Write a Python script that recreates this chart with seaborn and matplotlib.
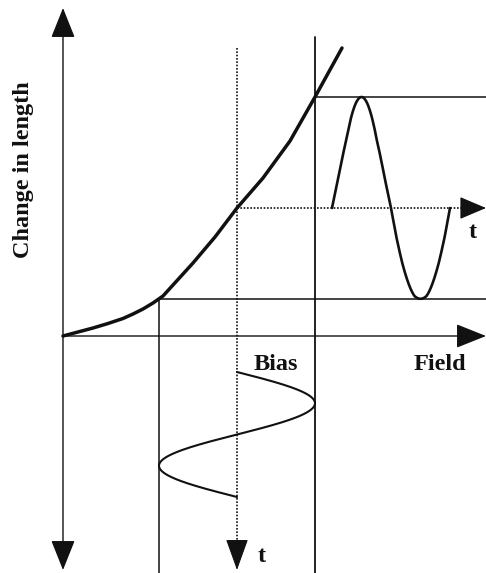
import numpy as np
import pandas as pd
import matplotlib
matplotlib.use("Agg")
import matplotlib.pyplot as plt
import seaborn as sns
from matplotlib.patches import FancyArrowPatch

# Magnetostriction curve: applied field vs change in length (arbitrary units)
field_pts = [0, 15, 30, 45, 60, 70, 80, 90, 100, 110, 130, 152, 174, 200, 227, 252, 279]
length_pts = [0, 4, 8, 12.5, 17.5, 22, 27, 33, 40, 51, 73, 99, 128, 158, 195, 239, 288]

# Drive signal: bias field plus an alternating component
bias_field = 174
drive_amplitude = 78
drive_period = 125      # time span of one drive cycle (drawn downward)
drive_start = -36       # where the drive time trace begins below the field axis
response_period = 118   # time span of one response cycle (drawn rightward)
response_start = 269    # where the response time trace begins along the field axis

# Axis extents
field_max = 423
length_top, length_bottom = 328, -234

sns.set_theme(style="white")
plt.rcParams["font.family"] = ["Liberation Serif", "DejaVu Serif"]

fig = plt.figure(figsize=(4.86, 5.73), dpi=100)
ax = fig.add_axes([0, 0, 1, 1])
ax.set_xlim(-63, 423)
ax.set_ylim(-237, 336)
ax.axis("off")

ink = "#111111"

def arrow(p0, p1, style="-|>", lw=1.0, hl=0.95, hw=0.38):
    a = FancyArrowPatch(p0, p1,
                        arrowstyle=f"{style},head_length={hl},head_width={hw}",
                        mutation_scale=20, lw=lw, color=ink,
                        shrinkA=0, shrinkB=0, zorder=4)
    ax.add_patch(a)

def line(xs, ys, lw=1.0, ls="-", z=2):
    df = pd.DataFrame({"x": xs, "y": ys})
    sns.lineplot(data=df, x="x", y="y", sort=False, estimator=None,
                 color=ink, lw=lw, linestyle=ls, ax=ax, zorder=z)

# Signals
phase = np.linspace(0, 1, 400)
drive = bias_field + drive_amplitude * np.sin(2 * np.pi * phase)
drive_time = drive_start - phase * drive_period
response = np.interp(drive, field_pts, length_pts)
response_time = response_start + phase * response_period

lo_field = bias_field - drive_amplitude
hi_field = bias_field + drive_amplitude
lo_len = np.interp(lo_field, field_pts, length_pts)
hi_len = np.interp(hi_field, field_pts, length_pts)
bias_len = np.interp(bias_field, field_pts, length_pts)

# Axes of the diagram
arrow((0, 0), (0, length_top), style="-|>", lw=1.0)
arrow((0, 0), (0, length_bottom), style="-|>", lw=1.0)
arrow((0, 0), (field_max, 0), style="-|>", lw=1.0)

# Guide lines for the field swing and resulting length swing
line([lo_field, field_max], [lo_len, lo_len], lw=1.1)
line([hi_field, field_max], [hi_len, hi_len], lw=1.1)
line([lo_field, lo_field], [lo_len, -237], lw=1.1)
line([hi_field, hi_field], [299, -237], lw=1.3)

# Dotted bias guides with time arrows
line([bias_field, bias_field], [288, length_bottom + 20], lw=1.2, ls=(0, (1, 1)))
arrow((bias_field, length_bottom + 22), (bias_field, length_bottom), lw=0.8,
      hl=1.0, hw=0.36)
line([bias_field, field_max - 14], [bias_len, bias_len], lw=1.2, ls=(0, (1, 1)))
arrow((field_max - 16, bias_len), (field_max, bias_len), lw=0.8, hl=0.85, hw=0.36)

# Strain curve and the two waveforms
line(field_pts, length_pts, lw=2.5, z=3)
line(drive, drive_time, lw=1.5, z=3)
line(response_time, response, lw=1.9, z=3)

# Labels
tkw = dict(fontsize=17.5, fontweight="bold", color=ink)
ax.text(-40, 166, "Change in length", rotation=90, ha="center", va="center", **tkw)
ax.text(213, -29, "Bias", ha="center", va="center", **tkw)
ax.text(377, -29, "Field", ha="center", va="center", **tkw)
ax.text(410, 104, "t", ha="center", va="center", **tkw)
ax.text(199, -220, "t", ha="center", va="center", **tkw)

fig.savefig("out.png", dpi=100)
